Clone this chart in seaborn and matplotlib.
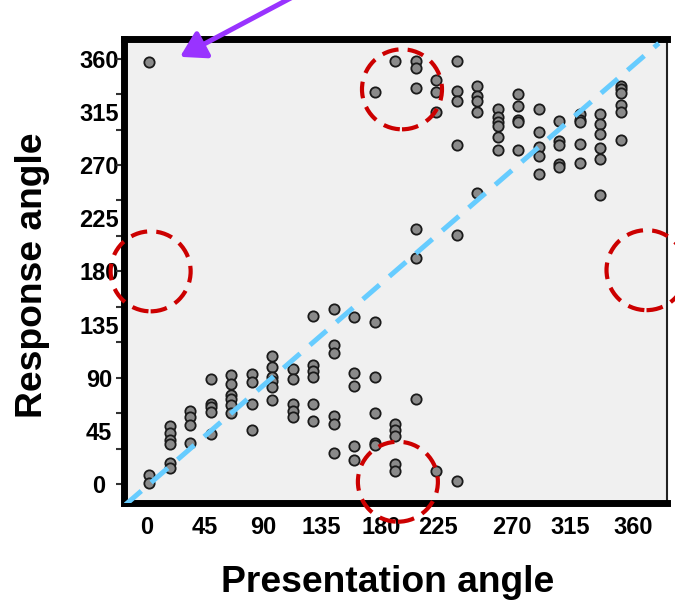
"""Response angle vs presentation angle scatter, with identity line and marked regions."""
import pandas as pd
import matplotlib.pyplot as plt
import matplotlib.transforms as mtransforms
from matplotlib.patches import Circle
import seaborn as sns

# presentation angles (deg), one column of responses per angle
presented = [0, 15, 30, 45, 60, 75, 90, 105, 120, 135, 150, 165,
             180, 195, 210, 225, 240, 255, 270, 285, 300, 315, 330, 345]

resp_000 = [357, 8, 1]
resp_015 = [49, 43, 37, 34, 18, 14]
resp_030 = [62, 57, 50, 35]
resp_045 = [89, 68, 65, 61, 42]
resp_060 = [92, 85, 75, 72, 67, 60]
resp_075 = [93, 86, 68, 46]
resp_090 = [108, 99, 91, 87, 82, 71]
resp_105 = [97, 89, 68, 62, 57]
resp_120 = [142, 101, 96, 91, 68, 53]
resp_135 = [148, 118, 111, 58, 51, 26]
resp_150 = [141, 94, 83, 32, 20]
resp_165 = [332, 137, 91, 60, 35, 33]
resp_180 = [358, 51, 46, 41, 17, 11]
resp_195 = [358, 352, 335, 216, 191, 72]
resp_210 = [342, 332, 315, 11]
resp_225 = [358, 333, 324, 287, 211, 3]
resp_240 = [337, 328, 324, 315, 246]
resp_255 = [317, 311, 306, 303, 294, 283]
resp_270 = [330, 320, 308, 306, 283]
resp_285 = [317, 298, 285, 278, 262]
resp_300 = [307, 290, 287, 271, 268]
resp_315 = [313, 308, 306, 288, 272]
resp_330 = [313, 305, 296, 284, 275, 245]
resp_345 = [337, 334, 331, 321, 315, 291]

responses = [resp_000, resp_015, resp_030, resp_045, resp_060, resp_075,
             resp_090, resp_105, resp_120, resp_135, resp_150, resp_165,
             resp_180, resp_195, resp_210, resp_225, resp_240, resp_255,
             resp_270, resp_285, resp_300, resp_315, resp_330, resp_345]

# identity line ends
diag = [-18, 373]

tick_labels = ['0', '45', '90', '135', '180', '225', '270', '315', '360']
y_label_vals = [0, 45, 90, 135, 180, 225, 270, 315, 360]
y_tick_marks = [0, 30, 60, 90, 120, 150, 180, 210, 240, 270, 300, 330, 360]

# regions circled in red (data coords)
circle_centres = [(1, 180), (364, 181), (182, 2), (185, 334)]

rows = []
for p, resp in zip(presented, responses):
    for r in resp:
        rows.append({'presented': p, 'response': r})
df = pd.DataFrame(rows)

sns.set_style('white')
plt.rcParams['font.family'] = ['Liberation Sans', 'DejaVu Sans']
plt.rcParams['text.color'] = 'black'
plt.rcParams['xtick.color'] = 'black'
plt.rcParams['ytick.color'] = 'black'

fig = plt.figure(figsize=(6.75, 6.07), dpi=100)
ax = fig.add_axes([124 / 675, 1 - 503 / 607, 543 / 675, 464.5 / 607])
ax.set_facecolor('#f0f0f0')
ax.set_xlim(-18.5, 379)
ax.set_ylim(-16, 377)

sns.scatterplot(data=df, x='presented', y='response', ax=ax, s=55,
                color='#8a8a8a', edgecolor='#1a1a1a', linewidth=1.3,
                zorder=3, legend=False)
ax.plot(diag, diag, color='#66ccff', lw=3.6, dashes=(4.4, 2.6), zorder=4)

for cx, cy in circle_centres:
    tr = fig.dpi_scale_trans + mtransforms.ScaledTranslation(cx, cy, ax.transData)
    ax.add_patch(Circle((0, 0), radius=0.4, transform=tr, fill=False,
                        edgecolor='#cc0000', lw=3, linestyle=(0, (4, 2.2)),
                        clip_on=False, zorder=5))

ax.annotate('', xy=(22.5, 361.5), xycoords='data',
            xytext=(295 / 675, 1.007), textcoords='figure fraction',
            arrowprops=dict(arrowstyle='-|>,head_length=15,head_width=9',
                            mutation_scale=1, color='#9933ff', lw=3.6,
                            shrinkA=0, shrinkB=0),
            annotation_clip=False, zorder=6)

for side in ['left', 'top', 'bottom']:
    ax.spines[side].set_linewidth(5)
    ax.spines[side].set_color('black')
ax.spines['right'].set_linewidth(1.5)
ax.spines['right'].set_color('#222222')

# x labels sit roughly under the columns, as in the original
x_label_pos = [-1.7, 40.8, 83.3, 125.8, 169.8, 211.5, 265.8, 308.3, 354.4]
ax.set_xticks(x_label_pos, labels=tick_labels)
ax.tick_params(axis='x', length=0, pad=9, labelsize=17)

ax.set_yticks(y_label_vals, labels=tick_labels)
ax.set_yticks(y_tick_marks, minor=True)
ax.yaxis.remove_overlapping_locs = False
ax.tick_params(axis='y', which='major', length=0, pad=18, labelsize=17)
ax.tick_params(axis='y', which='minor', left=True, length=6, width=1.5,
               color='#333333', direction='out')
for lab in ax.get_xticklabels() + ax.get_yticklabels():
    lab.set_fontweight('bold')
for lab in ax.get_yticklabels():
    lab.set_horizontalalignment('center')

ax.set_xlabel('')
ax.set_ylabel('')
fig.text(388 / 675, 1 - 583 / 607, 'Presentation angle', ha='center',
         va='center', fontsize=26.8, fontweight='bold')
fig.text(33 / 675, 1 - 275 / 607, 'Response angle', ha='center',
         va='center', rotation=90, fontsize=26.8, fontweight='bold')

fig.savefig('out.png', dpi=100)
